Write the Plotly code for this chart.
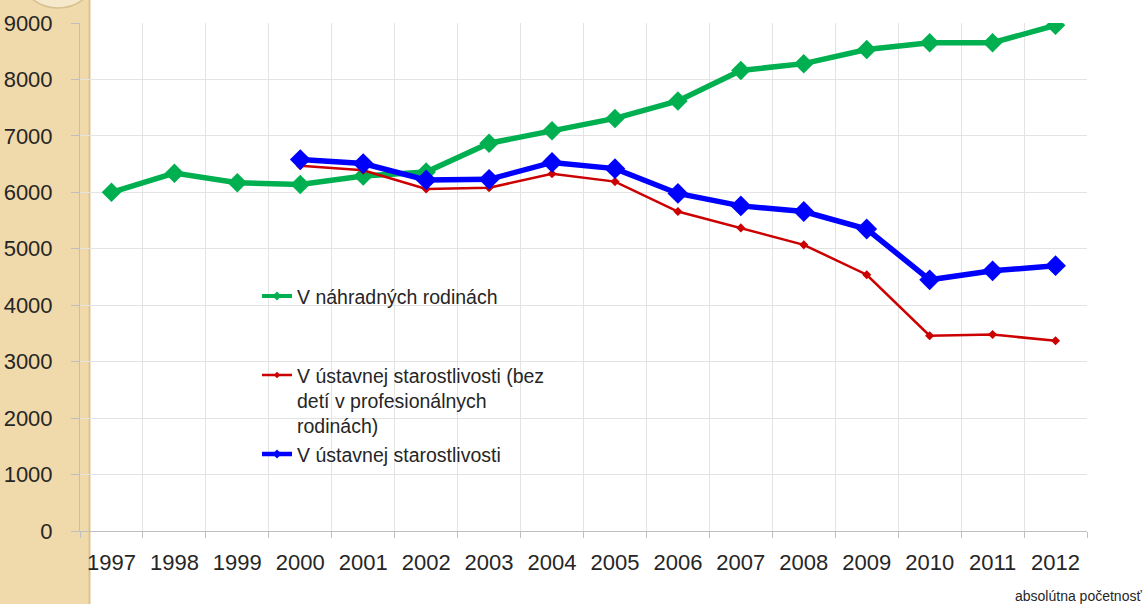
import plotly.graph_objects as go

years = ["1997", "1998", "1999", "2000", "2001", "2002", "2003", "2004",
         "2005", "2006", "2007", "2008", "2009", "2010", "2011", "2012"]

nahradne = [6000, 6340, 6170, 6140, 6290, 6360, 6870, 7090,
            7310, 7620, 8160, 8280, 8530, 8650, 8650, 8960]

ustavna_bez = [None, None, None, 6470, 6390, 6060, 6080, 6330,
               6190, 5660, 5370, 5070, 4540, 3460, 3480, 3370]

ustavna = [None, None, None, 6580, 6510, 6220, 6230, 6530,
           6420, 5980, 5760, 5660, 5350, 4450, 4610, 4700]

names = ["V náhradných rodinách<br> <br> ",
         "V ústavnej starostlivosti (bez<br>detí v profesionálnych<br>rodinách)",
         "V ústavnej starostlivosti"]

colors = ["#00b050", "#cc0000", "#0000ff"]

W, H = 1146, 604
L, R, T, B = 80, 59, 23, 72.5
pw = W - L - R
ph = H - T - B

def px_x(p):
    return (p - L) / pw

def px_y(p):
    return (H - B - p) / ph

fig = go.Figure()
# data traces
fig.add_trace(go.Scatter(x=years, y=nahradne, name=names[0], mode="lines+markers",
                         line=dict(color=colors[0], width=5.5), showlegend=False,
                         marker=dict(symbol="diamond", size=15, color=colors[0])))
fig.add_trace(go.Scatter(x=years, y=ustavna_bez, name=names[1], mode="lines+markers",
                         line=dict(color=colors[1], width=2.5), showlegend=False,
                         marker=dict(symbol="diamond", size=7, color=colors[1])))
fig.add_trace(go.Scatter(x=years, y=ustavna, name=names[2], mode="lines+markers",
                         line=dict(color=colors[2], width=5.5), showlegend=False,
                         marker=dict(symbol="diamond", size=16, color=colors[2])))
# legend entries (smaller symbols, as in the original legend)
leg_widths = [4, 2.5, 4.5]
leg_sizes = [7, 5, 7]
for nm, c, lw, ms in zip(names, colors, leg_widths, leg_sizes):
    fig.add_trace(go.Scatter(x=[None], y=[None], name=nm, mode="lines+markers",
                             line=dict(color=c, width=lw),
                             marker=dict(symbol="diamond", size=ms, color=c)))

shapes = [
    # beige side strip
    dict(type="rect", xref="paper", yref="paper", x0=px_x(-5), x1=px_x(90),
         y0=px_y(H + 5), y1=px_y(-5), fillcolor="#f0daab", line=dict(width=0), layer="below"),
    dict(type="line", xref="paper", yref="paper", x0=px_x(89.5), x1=px_x(89.5),
         y0=px_y(H + 5), y1=px_y(-5), line=dict(color="#dcc48f", width=2), layer="below"),
    # decorative ellipse at top-left
    dict(type="circle", xref="paper", yref="paper", x0=px_x(20), x1=px_x(96),
         y0=px_y(8), y1=px_y(-60), fillcolor="#f6e8cb", line=dict(color="#d6c08e", width=1.5),
         layer="below"),
    # white legend box hiding gridlines
    dict(type="rect", xref="paper", yref="paper", x0=px_x(251), x1=px_x(571),
         y0=px_y(510), y1=px_y(283), fillcolor="white", line=dict(width=0), layer="between"),
]

fig.update_layout(
    width=W, height=H,
    margin=dict(l=L, r=R, t=T, b=B, autoexpand=False),
    paper_bgcolor="white", plot_bgcolor="white",
    font=dict(family="Liberation Sans, Arial, sans-serif", color="#262626"),
    shapes=shapes,
    showlegend=True,
    legend=dict(x=px_x(257), y=px_y(277), xanchor="left", yanchor="top",
                bgcolor="rgba(0,0,0,0)", font=dict(size=19.5, color="#262626"),
                valign="top", tracegroupgap=0),
    annotations=[dict(text="absolútna početnosť", xref="paper", yref="paper",
                      x=px_x(1144), y=px_y(597), xanchor="right", yanchor="middle",
                      showarrow=False, font=dict(size=14, color="#262626",
                                                 family="Liberation Sans Narrow, Liberation Sans, sans-serif"))],
)

fig.update_xaxes(type="category", range=[-0.5, 15.5], tickson="boundaries",
                 showgrid=True, gridcolor="#e3e3e3", gridwidth=1,
                 ticks="outside", ticklen=6, tickcolor="#bfbfbf",
                 showline=True, linecolor="#bfbfbf", linewidth=1,
                 tickfont=dict(size=22, color="#262626"), ticklabelstandoff=12)
fig.update_yaxes(range=[0, 9000], dtick=1000, showgrid=True, gridcolor="#e3e3e3", gridwidth=1,
                 zeroline=False, ticks="outside", ticklen=8, tickcolor="#bfbfbf",
                 showline=True, linecolor="#bfbfbf", linewidth=1,
                 tickfont=dict(size=22, color="#262626"), ticklabelstandoff=14)

fig.write_html("out.html", config={"displayModeBar": False},
               post_script="document.body.style.margin='0';document.body.style.overflow='hidden';")
